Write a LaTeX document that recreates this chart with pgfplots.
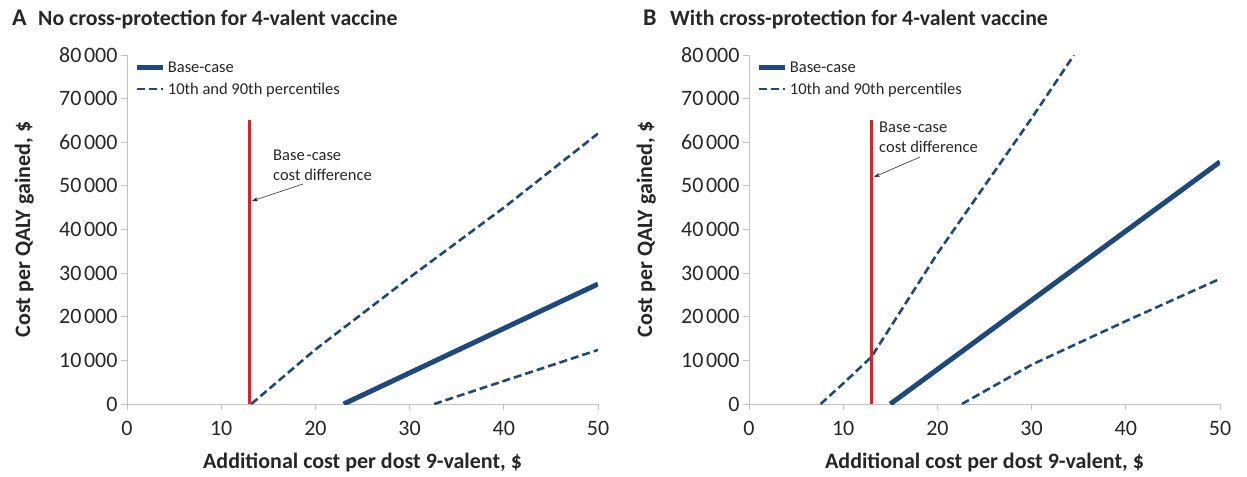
\documentclass[border=0pt]{standalone}
\usepackage{fontspec}
\setmainfont{Carlito}
\usepackage{pgfplots}
\pgfplotsset{compat=1.18}
\usetikzlibrary{arrows.meta}
\definecolor{navy}{RGB}{31,73,125}
\definecolor{axgray}{RGB}{191,191,191}
\definecolor{txt}{RGB}{38,38,38}
\definecolor{redl}{RGB}{237,28,36}
\newcommand{\tk}{\fontsize{22bp}{25bp}\selectfont}
\newcommand{\lb}{\fontsize{22bp}{25bp}\selectfont}
\newcommand{\ti}{\fontsize{21.8bp}{25bp}\selectfont}
\newcommand{\sm}{\fontsize{16.5bp}{20bp}\selectfont}
\pgfplotsset{
 common/.style={
  scale only axis, width=471bp, height=349bp,
  xmin=0,xmax=50,ymin=0,ymax=80000,
  axis lines=left, axis line style={axgray, line width=1bp, -},
  xtick={0,10,...,50}, ytick={0,10000,...,80000},
  tick style={axgray, line width=1bp},
  tick align=outside, major tick length=6bp,
  ticklabel style={font=\tk, text=txt},
  xticklabel style={yshift=-8bp},
  /pgf/number format/assume math mode=true,
  /pgf/number format/1000 sep={\kern2.5bp},
  scaled y ticks=false,
  xlabel={Additional cost per dost 9-valent, \$},
  ylabel={Cost per QALY gained, \$},
  xlabel style={font=\bfseries\lb, text=txt, at={(axis description cs:0.5,-0.169)}, anchor=center},
  ylabel style={font=\bfseries\lb, text=txt, at={(axis description cs:-0.218,0.5)}, anchor=center},
  legend style={draw=none, fill=none, font=\sm, text=txt, at={(axis description cs:0.01,0.993)}, anchor=north west, row sep=5bp, legend cell align=left},
  legend image code/.code={\draw[#1] (0bp,0bp) -- (26bp,0bp);},
 },
 base/.style={navy, line width=5bp},
 pct/.style={navy, line width=2.6bp, dash pattern=on 8bp off 4bp},
 redv/.style={redl, line width=3bp},
}
\begin{document}
\begin{tikzpicture}
\useasboundingbox (0,0) rectangle (1247bp,-477bp);
% Panel A
\begin{axis}[common, at={(127bp,-404bp)}, anchor=south west]
\addplot[base] coordinates {(23,0) (50,27500)};
\addlegendentry{Base-case}
\addplot[pct] coordinates {(13.2,0) (20,12500) (30,29000) (40,45000) (50,62000)};
\addlegendentry{10th and 90th percentiles}
\addplot[pct, forget plot] coordinates {(32.6,0) (50,12400)};
\addplot[redv, forget plot] coordinates {(13,0) (13,65000)};
\end{axis}
% Panel B
\begin{axis}[common, at={(749bp,-404bp)}, anchor=south west]
\addplot[base] coordinates {(15,0) (50,55500)};
\addlegendentry{Base-case}
\addplot[pct] coordinates {(7.6,0) (10,4700) (13,10800) (20,34500) (30,65500) (34.5,80000)};
\addlegendentry{10th and 90th percentiles}
\addplot[pct, forget plot] coordinates {(22.6,0) (30,9000) (40,19000) (50,28700)};
\addplot[redv, forget plot] coordinates {(13,0) (13,65000)};
\end{axis}
% titles
\node[anchor=base west, font=\bfseries\fontsize{24bp}{26bp}\selectfont, text=txt, inner sep=0pt] at (12bp,-25bp) {A};
\node[anchor=base west, font=\bfseries\ti, text=txt, inner sep=0pt] at (38bp,-25bp) {No cross-protection for 4-valent vaccine};
\node[anchor=base west, font=\bfseries\fontsize{24bp}{26bp}\selectfont, text=txt, inner sep=0pt] at (643bp,-25bp) {B};
\node[anchor=base west, font=\bfseries\ti, text=txt, inner sep=0pt] at (670bp,-25bp) {With cross-protection for 4-valent vaccine};
% annotations
\node[anchor=base west, font=\sm, text=txt, inner sep=0pt] at (273bp,-160bp) {Base\kern2bp-case};
\node[anchor=base west, font=\sm, text=txt, inner sep=0pt] at (273bp,-180bp) {cost difference};
\draw[txt, line width=0.6bp, -{Stealth[length=6bp,width=4bp]}] (303bp,-184bp) -- (252bp,-201bp);
\node[anchor=base west, font=\sm, text=txt, inner sep=0pt] at (879bp,-132bp) {Base\kern2bp-case};
\node[anchor=base west, font=\sm, text=txt, inner sep=0pt] at (879bp,-152bp) {cost difference};
\draw[txt, line width=0.6bp, -{Stealth[length=6bp,width=4bp]}] (920bp,-157bp) -- (874bp,-177bp);
\end{tikzpicture}
\end{document}
